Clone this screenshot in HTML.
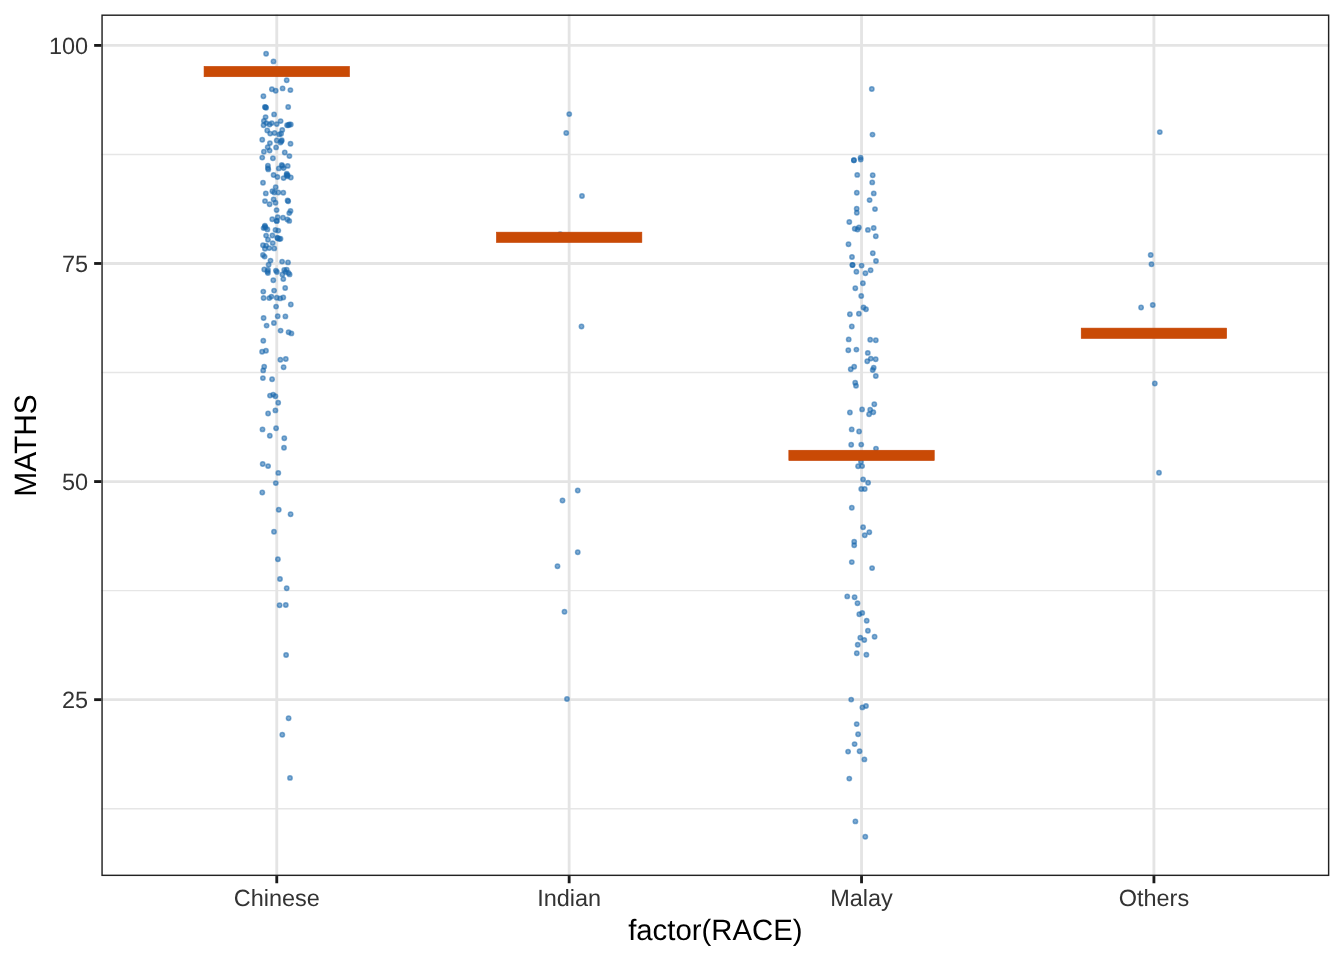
<!DOCTYPE html><html><head><meta charset="utf-8"><title>plot</title><style>html,body{margin:0;padding:0;background:#fff;}#wrap{will-change:transform;width:1344px;height:960px;}svg{display:block;}text{font-family:"Liberation Sans",Arial,sans-serif;text-rendering:geometricPrecision;}</style></head><body>
<div id="wrap"><svg width="1344" height="960" viewBox="0 0 1344 960">
<rect x="0" y="0" width="1344" height="960" fill="#ffffff"/>
<line x1="101.34" y1="154.44" x2="1329.35" y2="154.44" stroke="#e6e6e6" stroke-width="1.42"/>
<line x1="101.34" y1="372.52" x2="1329.35" y2="372.52" stroke="#e6e6e6" stroke-width="1.42"/>
<line x1="101.34" y1="590.61" x2="1329.35" y2="590.61" stroke="#e6e6e6" stroke-width="1.42"/>
<line x1="101.34" y1="808.69" x2="1329.35" y2="808.69" stroke="#e6e6e6" stroke-width="1.42"/>
<line x1="101.34" y1="45.40" x2="1329.35" y2="45.40" stroke="#e4e4e4" stroke-width="2.84"/>
<line x1="101.34" y1="263.48" x2="1329.35" y2="263.48" stroke="#e4e4e4" stroke-width="2.84"/>
<line x1="101.34" y1="481.56" x2="1329.35" y2="481.56" stroke="#e4e4e4" stroke-width="2.84"/>
<line x1="101.34" y1="699.65" x2="1329.35" y2="699.65" stroke="#e4e4e4" stroke-width="2.84"/>
<line x1="276.77" y1="14.48" x2="276.77" y2="876.05" stroke="#e4e4e4" stroke-width="2.84"/>
<line x1="569.15" y1="14.48" x2="569.15" y2="876.05" stroke="#e4e4e4" stroke-width="2.84"/>
<line x1="861.54" y1="14.48" x2="861.54" y2="876.05" stroke="#e4e4e4" stroke-width="2.84"/>
<line x1="1153.92" y1="14.48" x2="1153.92" y2="876.05" stroke="#e4e4e4" stroke-width="2.84"/>
<g fill="#1967ad" fill-opacity="0.55" stroke="#1967ad" stroke-opacity="0.55" stroke-width="1.5">
<circle cx="266.1" cy="53.7" r="2.2"/>
<circle cx="273.5" cy="61.4" r="2.2"/>
<circle cx="286.7" cy="80.2" r="2.2"/>
<circle cx="271.9" cy="89.25" r="2.2"/>
<circle cx="275.7" cy="90.75" r="2.2"/>
<circle cx="282.6" cy="88.4" r="2.2"/>
<circle cx="290.4" cy="90.1" r="2.2"/>
<circle cx="263.4" cy="96.25" r="2.2"/>
<circle cx="264.9" cy="107.0" r="2.2"/>
<circle cx="266.1" cy="107.8" r="2.2"/>
<circle cx="265.5" cy="107.3" r="2.2"/>
<circle cx="288.2" cy="107.0" r="2.2"/>
<circle cx="274.1" cy="114.4" r="2.2"/>
<circle cx="265.6" cy="117.1" r="2.2"/>
<circle cx="263.9" cy="120.9" r="2.2"/>
<circle cx="266.4" cy="123.1" r="2.2"/>
<circle cx="263.6" cy="125.3" r="2.2"/>
<circle cx="269.6" cy="124.5" r="2.2"/>
<circle cx="271.75" cy="123.1" r="2.2"/>
<circle cx="276.75" cy="124.1" r="2.2"/>
<circle cx="280.6" cy="121.1" r="2.2"/>
<circle cx="287.1" cy="125.3" r="2.2"/>
<circle cx="289.25" cy="124.5" r="2.2"/>
<circle cx="290.8" cy="124.5" r="2.2"/>
<circle cx="288.4" cy="125.2" r="2.2"/>
<circle cx="267.25" cy="130.5" r="2.2"/>
<circle cx="270.2" cy="133.6" r="2.2"/>
<circle cx="274.6" cy="133.0" r="2.2"/>
<circle cx="282.25" cy="129.9" r="2.2"/>
<circle cx="279.25" cy="134.4" r="2.2"/>
<circle cx="281.1" cy="133.75" r="2.2"/>
<circle cx="262.25" cy="139.8" r="2.2"/>
<circle cx="276.75" cy="140.5" r="2.2"/>
<circle cx="281.75" cy="140.2" r="2.2"/>
<circle cx="280.5" cy="142.5" r="2.2"/>
<circle cx="281.4" cy="141.2" r="2.2"/>
<circle cx="269.9" cy="143.1" r="2.2"/>
<circle cx="290.5" cy="143.75" r="2.2"/>
<circle cx="276.1" cy="147.4" r="2.2"/>
<circle cx="267.7" cy="147.2" r="2.2"/>
<circle cx="269.6" cy="150.6" r="2.2"/>
<circle cx="263.9" cy="151.75" r="2.2"/>
<circle cx="284.75" cy="152.5" r="2.2"/>
<circle cx="289.4" cy="156.1" r="2.2"/>
<circle cx="262.25" cy="157.6" r="2.2"/>
<circle cx="272.9" cy="158.25" r="2.2"/>
<circle cx="267.9" cy="165.6" r="2.2"/>
<circle cx="267.9" cy="168.1" r="2.2"/>
<circle cx="268.3" cy="169.4" r="2.2"/>
<circle cx="278.8" cy="168.4" r="2.2"/>
<circle cx="281.75" cy="165" r="2.2"/>
<circle cx="282.4" cy="165.9" r="2.2"/>
<circle cx="283.6" cy="168.1" r="2.2"/>
<circle cx="287.7" cy="165.9" r="2.2"/>
<circle cx="273.6" cy="175" r="2.2"/>
<circle cx="277.4" cy="177" r="2.2"/>
<circle cx="286.75" cy="173.75" r="2.2"/>
<circle cx="287.7" cy="175.3" r="2.2"/>
<circle cx="286.6" cy="175.0" r="2.2"/>
<circle cx="287.3" cy="176.2" r="2.2"/>
<circle cx="283.6" cy="178.1" r="2.2"/>
<circle cx="290.8" cy="177.5" r="2.2"/>
<circle cx="263" cy="182.7" r="2.2"/>
<circle cx="275.7" cy="187.2" r="2.2"/>
<circle cx="265.8" cy="193.4" r="2.2"/>
<circle cx="272.4" cy="191.25" r="2.2"/>
<circle cx="274.25" cy="192.5" r="2.2"/>
<circle cx="278.3" cy="192.5" r="2.2"/>
<circle cx="283.3" cy="192.8" r="2.2"/>
<circle cx="265" cy="201.1" r="2.2"/>
<circle cx="269.6" cy="204.25" r="2.2"/>
<circle cx="273.6" cy="199.4" r="2.2"/>
<circle cx="275.5" cy="202.8" r="2.2"/>
<circle cx="287.6" cy="200.5" r="2.2"/>
<circle cx="288.2" cy="201.3" r="2.2"/>
<circle cx="276.6" cy="210.1" r="2.2"/>
<circle cx="290.5" cy="210.9" r="2.2"/>
<circle cx="289.25" cy="213.1" r="2.2"/>
<circle cx="272.25" cy="219.25" r="2.2"/>
<circle cx="277.7" cy="217.2" r="2.2"/>
<circle cx="276.75" cy="220.9" r="2.2"/>
<circle cx="276.75" cy="220.9" r="2.2"/>
<circle cx="283" cy="217.8" r="2.2"/>
<circle cx="287.4" cy="219.4" r="2.2"/>
<circle cx="289.25" cy="220.9" r="2.2"/>
<circle cx="264.9" cy="225.6" r="2.2"/>
<circle cx="264.8" cy="226.8" r="2.2"/>
<circle cx="265.6" cy="227.6" r="2.2"/>
<circle cx="263.6" cy="228.1" r="2.2"/>
<circle cx="267.4" cy="229.4" r="2.2"/>
<circle cx="275.5" cy="230" r="2.2"/>
<circle cx="278.3" cy="230.6" r="2.2"/>
<circle cx="266.1" cy="235.6" r="2.2"/>
<circle cx="268" cy="239.7" r="2.2"/>
<circle cx="272.4" cy="235.5" r="2.2"/>
<circle cx="277.4" cy="237.8" r="2.2"/>
<circle cx="280.5" cy="238.75" r="2.2"/>
<circle cx="277.6" cy="238.3" r="2.2"/>
<circle cx="279.3" cy="239.0" r="2.2"/>
<circle cx="272.7" cy="243.1" r="2.2"/>
<circle cx="263" cy="245.3" r="2.2"/>
<circle cx="266.1" cy="245.6" r="2.2"/>
<circle cx="264.9" cy="248.75" r="2.2"/>
<circle cx="269.25" cy="248.1" r="2.2"/>
<circle cx="274.25" cy="248.4" r="2.2"/>
<circle cx="263" cy="255" r="2.2"/>
<circle cx="264.6" cy="256.6" r="2.2"/>
<circle cx="270.5" cy="260.6" r="2.2"/>
<circle cx="268.6" cy="264.7" r="2.2"/>
<circle cx="282.1" cy="261.6" r="2.2"/>
<circle cx="288" cy="262.4" r="2.2"/>
<circle cx="264.25" cy="269.5" r="2.2"/>
<circle cx="268" cy="270" r="2.2"/>
<circle cx="267.9" cy="273.1" r="2.2"/>
<circle cx="267.4" cy="271.6" r="2.2"/>
<circle cx="275.9" cy="270.6" r="2.2"/>
<circle cx="276.9" cy="272.0" r="2.2"/>
<circle cx="284.25" cy="270" r="2.2"/>
<circle cx="286.75" cy="269.7" r="2.2"/>
<circle cx="285.5" cy="271.9" r="2.2"/>
<circle cx="282.4" cy="274.4" r="2.2"/>
<circle cx="289.6" cy="274.4" r="2.2"/>
<circle cx="288.5" cy="273" r="2.2"/>
<circle cx="273.3" cy="280.3" r="2.2"/>
<circle cx="283.3" cy="279.1" r="2.2"/>
<circle cx="285.2" cy="288" r="2.2"/>
<circle cx="263.3" cy="291.6" r="2.2"/>
<circle cx="274.1" cy="290.6" r="2.2"/>
<circle cx="263.6" cy="298" r="2.2"/>
<circle cx="269.25" cy="298.1" r="2.2"/>
<circle cx="271.4" cy="296.6" r="2.2"/>
<circle cx="276.75" cy="297.8" r="2.2"/>
<circle cx="280.2" cy="298.4" r="2.2"/>
<circle cx="283.3" cy="297.5" r="2.2"/>
<circle cx="276.1" cy="306.6" r="2.2"/>
<circle cx="290.8" cy="304.5" r="2.2"/>
<circle cx="263.6" cy="318" r="2.2"/>
<circle cx="277.7" cy="316.25" r="2.2"/>
<circle cx="285.4" cy="316.4" r="2.2"/>
<circle cx="273.9" cy="323" r="2.2"/>
<circle cx="266.6" cy="325.6" r="2.2"/>
<circle cx="280.6" cy="330.6" r="2.2"/>
<circle cx="288.6" cy="332.2" r="2.2"/>
<circle cx="291.4" cy="333.4" r="2.2"/>
<circle cx="263.3" cy="340.75" r="2.2"/>
<circle cx="262.1" cy="351.75" r="2.2"/>
<circle cx="266" cy="350.8" r="2.2"/>
<circle cx="280.4" cy="359.7" r="2.2"/>
<circle cx="285.8" cy="359.0" r="2.2"/>
<circle cx="264.2" cy="366.7" r="2.2"/>
<circle cx="263.2" cy="370.4" r="2.2"/>
<circle cx="283.6" cy="367.25" r="2.2"/>
<circle cx="262.9" cy="378.1" r="2.2"/>
<circle cx="272.1" cy="379.2" r="2.2"/>
<circle cx="270" cy="395.6" r="2.2"/>
<circle cx="273.2" cy="394.6" r="2.2"/>
<circle cx="275.4" cy="396.25" r="2.2"/>
<circle cx="278.2" cy="402.7" r="2.2"/>
<circle cx="275.4" cy="410.4" r="2.2"/>
<circle cx="268.1" cy="413.5" r="2.2"/>
<circle cx="262.5" cy="429.4" r="2.2"/>
<circle cx="276.1" cy="428.2" r="2.2"/>
<circle cx="269.8" cy="435.8" r="2.2"/>
<circle cx="284.3" cy="438.3" r="2.2"/>
<circle cx="284" cy="447.7" r="2.2"/>
<circle cx="262.7" cy="464" r="2.2"/>
<circle cx="268.1" cy="466.1" r="2.2"/>
<circle cx="278.3" cy="472.9" r="2.2"/>
<circle cx="275.8" cy="483.1" r="2.2"/>
<circle cx="262.3" cy="492.5" r="2.2"/>
<circle cx="278.75" cy="509.7" r="2.2"/>
<circle cx="290.6" cy="514.3" r="2.2"/>
<circle cx="274" cy="531.8" r="2.2"/>
<circle cx="277.9" cy="559.2" r="2.2"/>
<circle cx="280" cy="579" r="2.2"/>
<circle cx="286.7" cy="588.2" r="2.2"/>
<circle cx="279.6" cy="605.2" r="2.2"/>
<circle cx="285.8" cy="605" r="2.2"/>
<circle cx="286.1" cy="655" r="2.2"/>
<circle cx="288.6" cy="718.3" r="2.2"/>
<circle cx="282.3" cy="734.8" r="2.2"/>
<circle cx="290" cy="777.9" r="2.2"/>
<circle cx="569.25" cy="114.1" r="2.2"/>
<circle cx="566.25" cy="133" r="2.2"/>
<circle cx="582" cy="196" r="2.2"/>
<circle cx="560.2" cy="234.3" r="2.2"/>
<circle cx="581.5" cy="326.5" r="2.2"/>
<circle cx="577.75" cy="490.5" r="2.2"/>
<circle cx="562.5" cy="500.5" r="2.2"/>
<circle cx="577.75" cy="552.25" r="2.2"/>
<circle cx="557.5" cy="566.25" r="2.2"/>
<circle cx="564.5" cy="611.75" r="2.2"/>
<circle cx="567" cy="699" r="2.2"/>
<circle cx="871.8" cy="89" r="2.2"/>
<circle cx="872.5" cy="134.6" r="2.2"/>
<circle cx="853.9" cy="160.2" r="2.2"/>
<circle cx="853.9" cy="160.2" r="2.2"/>
<circle cx="860.6" cy="157.6" r="2.2"/>
<circle cx="860.7" cy="159.6" r="2.2"/>
<circle cx="857.25" cy="174.9" r="2.2"/>
<circle cx="872.7" cy="175.3" r="2.2"/>
<circle cx="872.25" cy="182.4" r="2.2"/>
<circle cx="856.8" cy="192.8" r="2.2"/>
<circle cx="873.75" cy="193.4" r="2.2"/>
<circle cx="869.6" cy="200.1" r="2.2"/>
<circle cx="856.7" cy="208.7" r="2.2"/>
<circle cx="856.8" cy="212.8" r="2.2"/>
<circle cx="875" cy="209.1" r="2.2"/>
<circle cx="849.3" cy="222" r="2.2"/>
<circle cx="854.75" cy="228.7" r="2.2"/>
<circle cx="858.9" cy="227.4" r="2.2"/>
<circle cx="857.5" cy="229.5" r="2.2"/>
<circle cx="867.9" cy="229.9" r="2.2"/>
<circle cx="873.7" cy="228" r="2.2"/>
<circle cx="875.8" cy="236.2" r="2.2"/>
<circle cx="848.5" cy="244.2" r="2.2"/>
<circle cx="872.8" cy="253.25" r="2.2"/>
<circle cx="852" cy="257" r="2.2"/>
<circle cx="876" cy="261" r="2.2"/>
<circle cx="852.5" cy="265" r="2.2"/>
<circle cx="852.5" cy="265" r="2.2"/>
<circle cx="861.6" cy="265.6" r="2.2"/>
<circle cx="856.4" cy="271.8" r="2.2"/>
<circle cx="865.4" cy="273.25" r="2.2"/>
<circle cx="870.6" cy="270.2" r="2.2"/>
<circle cx="862.9" cy="283.25" r="2.2"/>
<circle cx="855.3" cy="288.25" r="2.2"/>
<circle cx="861.25" cy="296" r="2.2"/>
<circle cx="863.5" cy="307.5" r="2.2"/>
<circle cx="866" cy="309.3" r="2.2"/>
<circle cx="849.9" cy="314.2" r="2.2"/>
<circle cx="858.9" cy="313.75" r="2.2"/>
<circle cx="851.8" cy="326.5" r="2.2"/>
<circle cx="848.7" cy="339.4" r="2.2"/>
<circle cx="870.2" cy="339.8" r="2.2"/>
<circle cx="875.8" cy="340.2" r="2.2"/>
<circle cx="848.3" cy="350.2" r="2.2"/>
<circle cx="856.4" cy="349.6" r="2.2"/>
<circle cx="867.8" cy="352.9" r="2.2"/>
<circle cx="870.8" cy="358.6" r="2.2"/>
<circle cx="875.7" cy="359.2" r="2.2"/>
<circle cx="867.25" cy="361.25" r="2.2"/>
<circle cx="854.2" cy="366.7" r="2.2"/>
<circle cx="850.75" cy="369.2" r="2.2"/>
<circle cx="873.7" cy="367.7" r="2.2"/>
<circle cx="872.7" cy="370" r="2.2"/>
<circle cx="875.8" cy="376" r="2.2"/>
<circle cx="855.2" cy="382.75" r="2.2"/>
<circle cx="856" cy="385.7" r="2.2"/>
<circle cx="874.3" cy="404.2" r="2.2"/>
<circle cx="862.1" cy="409.4" r="2.2"/>
<circle cx="849.9" cy="412.5" r="2.2"/>
<circle cx="870.2" cy="409.7" r="2.2"/>
<circle cx="873.3" cy="412.2" r="2.2"/>
<circle cx="869.1" cy="414.2" r="2.2"/>
<circle cx="851.7" cy="429.4" r="2.2"/>
<circle cx="859.1" cy="431.5" r="2.2"/>
<circle cx="851.2" cy="444.8" r="2.2"/>
<circle cx="861.25" cy="444.6" r="2.2"/>
<circle cx="876" cy="448.6" r="2.2"/>
<circle cx="861" cy="461.7" r="2.2"/>
<circle cx="858.1" cy="466.25" r="2.2"/>
<circle cx="862.1" cy="466.1" r="2.2"/>
<circle cx="863.1" cy="479.4" r="2.2"/>
<circle cx="868.1" cy="482.75" r="2.2"/>
<circle cx="861.25" cy="489" r="2.2"/>
<circle cx="864.75" cy="489" r="2.2"/>
<circle cx="851.8" cy="507.75" r="2.2"/>
<circle cx="863.1" cy="527.2" r="2.2"/>
<circle cx="869.3" cy="532.25" r="2.2"/>
<circle cx="864.75" cy="535.2" r="2.2"/>
<circle cx="854.2" cy="541.8" r="2.2"/>
<circle cx="854.2" cy="545.2" r="2.2"/>
<circle cx="851.8" cy="562.1" r="2.2"/>
<circle cx="872.1" cy="568.1" r="2.2"/>
<circle cx="847.25" cy="596.4" r="2.2"/>
<circle cx="854.6" cy="597.25" r="2.2"/>
<circle cx="857.5" cy="603.3" r="2.2"/>
<circle cx="859.3" cy="614.2" r="2.2"/>
<circle cx="862.25" cy="612.9" r="2.2"/>
<circle cx="866.7" cy="620.8" r="2.2"/>
<circle cx="867.9" cy="630.7" r="2.2"/>
<circle cx="874.6" cy="636.7" r="2.2"/>
<circle cx="860.3" cy="637.75" r="2.2"/>
<circle cx="864.3" cy="640" r="2.2"/>
<circle cx="857.7" cy="644.75" r="2.2"/>
<circle cx="856.8" cy="653.3" r="2.2"/>
<circle cx="866.4" cy="654.75" r="2.2"/>
<circle cx="851.2" cy="699.6" r="2.2"/>
<circle cx="862.4" cy="707.4" r="2.2"/>
<circle cx="866" cy="706" r="2.2"/>
<circle cx="856.7" cy="724.1" r="2.2"/>
<circle cx="858.1" cy="734.3" r="2.2"/>
<circle cx="854.6" cy="744.1" r="2.2"/>
<circle cx="848.1" cy="751.6" r="2.2"/>
<circle cx="859.6" cy="751.25" r="2.2"/>
<circle cx="864.4" cy="759.4" r="2.2"/>
<circle cx="849.3" cy="778.6" r="2.2"/>
<circle cx="855.4" cy="821.4" r="2.2"/>
<circle cx="865.3" cy="836.7" r="2.2"/>
<circle cx="1159.8" cy="132.1" r="2.2"/>
<circle cx="1150.7" cy="255" r="2.2"/>
<circle cx="1151.5" cy="264.2" r="2.2"/>
<circle cx="1141.1" cy="307.5" r="2.2"/>
<circle cx="1152.75" cy="305" r="2.2"/>
<circle cx="1154.8" cy="383.5" r="2.2"/>
<circle cx="1159" cy="472.7" r="2.2"/>
</g>
<rect x="204.07" y="66.42" width="145.4" height="10.3" fill="#c94a05" stroke="#c44000" stroke-width="0.6"/>
<rect x="496.45" y="232.16" width="145.4" height="10.3" fill="#c94a05" stroke="#c44000" stroke-width="0.6"/>
<rect x="788.84" y="450.25" width="145.4" height="10.3" fill="#c94a05" stroke="#c44000" stroke-width="0.6"/>
<rect x="1081.22" y="328.12" width="145.4" height="10.3" fill="#c94a05" stroke="#c44000" stroke-width="0.6"/>
<rect x="102.06" y="15.20" width="1226.57" height="860.13" fill="none" stroke="#222222" stroke-width="1.44"/>
<line x1="94.14" y1="45.40" x2="101.34" y2="45.40" stroke="#1a1a1a" stroke-width="2.84"/>
<text x="88.1" y="54.00" font-size="23.47" fill="#333333" text-anchor="end">100</text>
<line x1="94.14" y1="263.48" x2="101.34" y2="263.48" stroke="#1a1a1a" stroke-width="2.84"/>
<text x="88.1" y="272.08" font-size="23.47" fill="#333333" text-anchor="end">75</text>
<line x1="94.14" y1="481.56" x2="101.34" y2="481.56" stroke="#1a1a1a" stroke-width="2.84"/>
<text x="88.1" y="490.17" font-size="23.47" fill="#333333" text-anchor="end">50</text>
<line x1="94.14" y1="699.65" x2="101.34" y2="699.65" stroke="#1a1a1a" stroke-width="2.84"/>
<text x="88.1" y="708.25" font-size="23.47" fill="#333333" text-anchor="end">25</text>
<line x1="276.77" y1="876.05" x2="276.77" y2="883.25" stroke="#1a1a1a" stroke-width="2.84"/>
<text x="276.77" y="906" font-size="23.47" fill="#333333" text-anchor="middle">Chinese</text>
<line x1="569.15" y1="876.05" x2="569.15" y2="883.25" stroke="#1a1a1a" stroke-width="2.84"/>
<text x="569.15" y="906" font-size="23.47" fill="#333333" text-anchor="middle">Indian</text>
<line x1="861.54" y1="876.05" x2="861.54" y2="883.25" stroke="#1a1a1a" stroke-width="2.84"/>
<text x="861.54" y="906" font-size="23.47" fill="#333333" text-anchor="middle">Malay</text>
<line x1="1153.92" y1="876.05" x2="1153.92" y2="883.25" stroke="#1a1a1a" stroke-width="2.84"/>
<text x="1153.92" y="906" font-size="23.47" fill="#333333" text-anchor="middle">Others</text>
<text x="715.34" y="939.5" font-size="29.33" fill="#000000" text-anchor="middle">factor(RACE)</text>
<text transform="translate(35.6 445.5) rotate(-90) scale(1.02 1.055)" x="0" y="0" font-size="29.33" fill="#000000" text-anchor="middle">MATHS</text>
</svg></div></body></html>
